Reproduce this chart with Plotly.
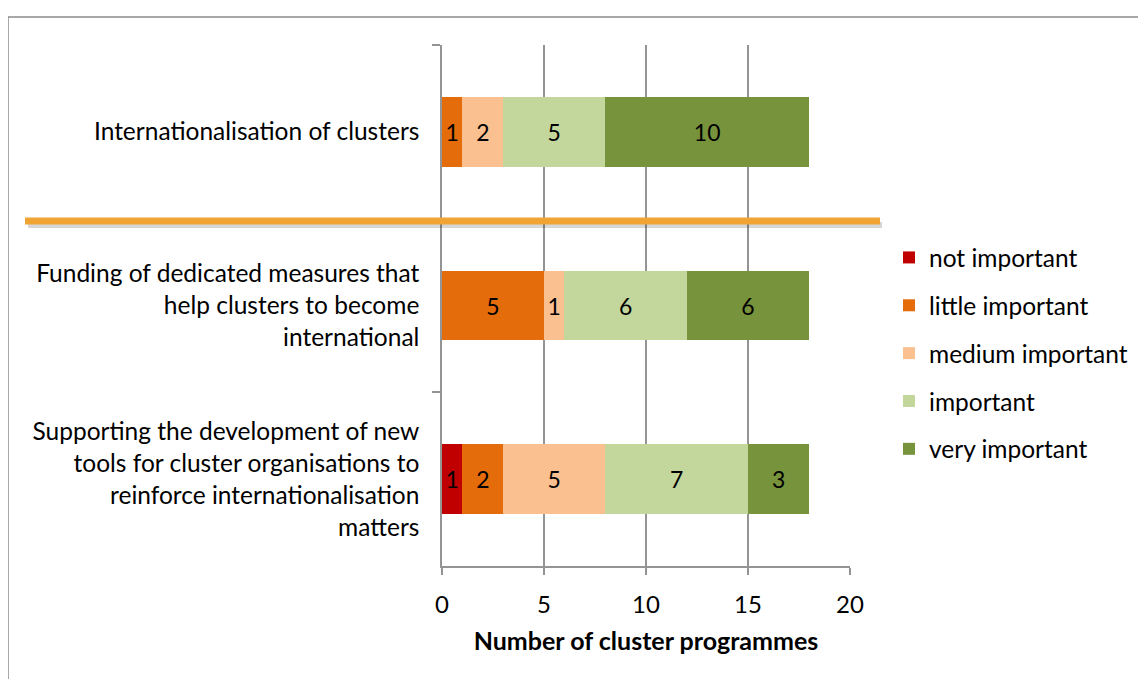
import plotly.graph_objects as go

# 카테고리 (위에서 아래 순서)
categories = [
    "Internationalisation of clusters",
    "Funding of dedicated measures that<br>help clusters to become<br>international",
    "Supporting the development of new<br>tools for cluster organisations to<br>reinforce internationalisation<br>matters",
]
series_names = ["not important", "little important", "medium important", "important", "very important"]
not_important = [0, 0, 1]
little_important = [1, 5, 2]
medium_important = [2, 1, 5]
important = [5, 6, 7]
very_important = [10, 6, 3]
colors = ["#C00000", "#E46C0A", "#FAC090", "#C3D69B", "#77933C"]

values = [not_important, little_important, medium_important, important, very_important]

FONT = "Lato, Open Sans, sans-serif"
W, H = 1146, 679
OFF = 8  # 페이지 body 여백
# 플롯 영역 (페이지 좌표)
PX0, PX1, PY0, PY1 = 442, 850, 45, 566
L, T = PX0 - OFF, PY0 - OFF
R, B = W - L - (PX1 - PX0), H - T - (PY1 - PY0)
pw, ph = PX1 - PX0, PY1 - PY0


def px(x):
    return (x - PX0) / pw


def py(y):
    return (PY1 - y) / ph


fig = go.Figure()
for name, vals, col in zip(series_names, values, colors):
    fig.add_trace(
        go.Bar(
            y=categories,
            x=vals,
            name=name,
            orientation="h",
            marker=dict(color=col, line=dict(width=0)),
            text=[str(v) if v else "" for v in vals],
            textposition="inside",
            insidetextanchor="middle",
            textangle=0,
            textfont=dict(color="black", size=23, family=FONT),
            legendgroup=name,
        )
    )

# 구분선 (주황색) + 그림자
fig.add_shape(type="line", xref="paper", yref="paper",
              x0=px(28), x1=px(882), y0=py(225), y1=py(225),
              line=dict(color="rgba(0,0,0,0.16)", width=6))
fig.add_shape(type="line", xref="paper", yref="paper",
              x0=px(25), x1=px(880), y0=py(221), y1=py(221),
              line=dict(color="#EFA433", width=7))
# 바깥 테두리
fig.add_shape(type="rect", xref="paper", yref="paper",
              x0=px(8), x1=px(1170), y0=py(17), y1=py(720),
              line=dict(color="#8C8C8C", width=1.5), layer="below")

fig.update_layout(
    width=W, height=H,
    margin=dict(l=L, r=R, t=T, b=B),
    barmode="stack",
    bargap=0.6,
    plot_bgcolor="white",
    paper_bgcolor="white",
    font=dict(family=FONT, size=23, color="black"),
    showlegend=True,
    legend=dict(
        x=px(889), y=py(235), xanchor="left", yanchor="top",
        traceorder="grouped", tracegroupgap=13,
        font=dict(size=24.5, family=FONT),
        itemwidth=30,
    ),
)
fig.update_xaxes(
    range=[0, 20], dtick=5, showgrid=True, gridcolor="#949494", gridwidth=1.5,
    showline=True, linecolor="#949494", linewidth=1.5,
    ticks="outside", ticklen=7, tickcolor="#949494", tickwidth=1.5,
    zeroline=False, ticklabelstandoff=9,
    tickfont=dict(size=24),
    title=dict(text="<b>Number of cluster programmes</b>", font=dict(size=25), standoff=16),
)
fig.update_yaxes(
    autorange="reversed", showline=True, linecolor="#949494", linewidth=1.5,
    ticks="outside", ticklen=8, tickcolor="#949494", tickwidth=1.5,
    tickson="boundaries", showgrid=False,
    ticklabelstandoff=16,
    tickfont=dict(size=24.5),
)

fig.write_html("out.html")
